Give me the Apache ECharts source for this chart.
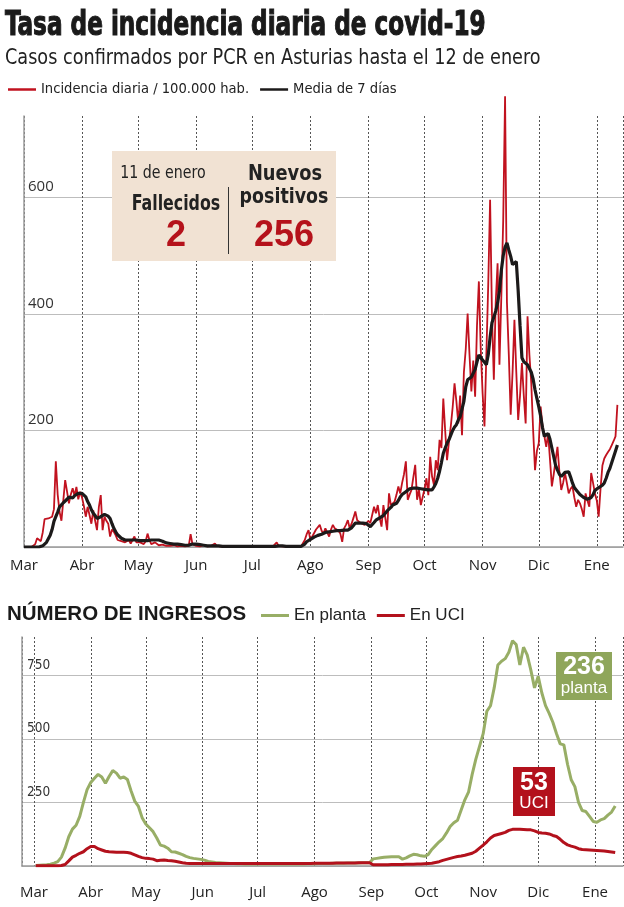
<!DOCTYPE html>
<html><head><meta charset="utf-8">
<script src="https://cdn.jsdelivr.net/npm/echarts@6/dist/echarts.min.js"></script>
<style>html,body{margin:0;padding:0;background:#fff}#c{width:624px;height:907px}</style>
</head><body><div id="c"></div>
<script>
// ---- tick labels ----
const monthLabels = ['Ene','Feb','Mar','Abr','May','Jun','Jul','Ago','Sep','Oct','Nov','Dic'];

// ---- top chart: daily incidence per 100.000 hab. (from 1 Mar 2020, one value per day) ----
const incidenceStart = [2020, 2, 1];
const incidenceDaily = [
  // Mar
  0,0,0,0,0,1,5,15,18,10,25,48,50,49,50,52,65,147,90,60,45,80,115,95,75,90,101,88,103,82,95,
  // Abr
  85,70,52,69,55,40,63,45,29,69,89,29,52,45,40,18,30,26,20,12,15,10,9,8,10,12,6,8,18,8,
  // May
  6,8,9,5,10,23,12,5,6,8,5,3,5,4,3,2,3,2,2,3,2,1,2,2,2,1,2,2,22,5,2,
  // Jun
  2,3,1,2,3,2,1,2,2,3,6,2,1,1,2,1,1,2,1,1,1,1,2,1,1,1,1,1,1,1,
  // Jul
  1,1,1,1,1,1,1,2,1,1,1,1,2,8,2,1,1,1,1,1,1,2,1,1,2,1,1,3,12,22,29,
  // Ago
  12,18,21,30,33,38,28,23,32,25,18,30,38,32,35,28,23,9,32,38,46,32,40,50,61,46,46,41,41,38,35,
  // Sep
  45,41,55,69,58,72,50,35,72,50,29,92,72,75,78,90,104,92,110,125,147,81,90,98,120,141,81,98,72,75,
  // Oct
  100,118,89,155,121,107,149,132,184,170,255,200,149,180,207,240,281,250,212,260,192,300,340,401,330,267,320,258,380,456,340,
  // Nov
  264,207,330,450,596,400,287,420,487,313,430,560,774,420,330,227,300,390,300,218,260,316,260,212,396,330,281,200,132,165,
  // Dic
  178,241,207,190,172,195,150,104,125,149,172,130,98,110,127,110,92,100,104,85,69,81,75,65,52,92,80,69,127,110,92,
  // Ene
  80,52,100,140,152,158,163,168,175,182,190,244
];
const incidenceAvg7 = [
  // Mar
  0,0,0,0,0,0,0,0,0,1,2,3,8,14,20,30,44,52,60,69,72,76,78,82,86,85,84,88,90,92,93,
  // Abr
  92,90,86,78,72,64,58,54,49,50,52,54,56,57,53,49,40,32,26,21,18,15,13,12,12,12,12,12,12,12,
  // May
  12,11,11,11,11,11,12,12,12,12,12,12,12,10,8,7,6,6,6,5,5,5,5,4,4,3,3,3,4,5,5,
  // Jun
  5,5,4,4,3,3,2,2,2,2,2,2,2,1,1,1,1,1,1,1,1,1,1,1,1,1,1,1,1,1,
  // Jul
  1,1,1,1,1,1,1,1,1,1,1,1,1,2,2,2,2,2,1,1,1,1,1,1,1,1,1,2,5,9,12,
  // Ago
  13,15,17,19,20,21,22,24,25,26,26,27,27,28,28,28,28,29,29,29,29,30,33,37,41,41,41,41,41,41,40,
  // Sep
  37,35,38,42,46,48,50,52,54,58,62,64,68,72,74,75,80,86,90,92,95,98,100,101,101,101,101,101,100,99,
  // Oct
  99,98,98,98,98,103,109,118,130,145,161,170,178,184,192,200,206,210,218,224,227,250,275,287,290,292,293,305,318,330,325,
  // Nov
  321,317,313,330,360,385,395,405,419,440,475,500,515,522,510,499,485,487,490,440,380,325,318,315,313,313,300,288,270,255,
  // Dic
  241,225,205,190,192,195,185,170,155,140,132,125,121,124,128,130,129,120,110,102,98,95,90,87,85,83,82,81,85,90,97,
  // Ene
  99,102,105,106,110,118,128,135,145,155,165,175
];

// ---- bottom chart: hospital admissions (from 2 Mar 2020, one value every 2 days) ----
const admissionsStart = [2020, 2, 2];
const admissionsStepDays = 2;
const plantaValues = [
  2,3,4,5,7,11,17,35,
  70,115,145,160,195,250,300,328,
  345,360,350,325,352,375,365,345,
  350,340,295,255,234,190,165,150,
  135,110,82,78,70,56,55,50,
  45,38,33,30,28,26,23,18,
  16,14,13,12,11,10,10,9,
  9,8,8,8,8,8,8,8,
  8,8,8,8,8,8,8,8,
  8,8,9,9,9,10,10,10,
  10,11,11,11,11,12,12,12,
  12,13,13,13,28,30,32,34,
  35,36,36,36,27,32,40,46,
  44,40,38,45,65,80,95,108,
  130,155,170,180,220,260,290,360,
  420,470,520,608,630,700,790,805,
  815,840,885,870,790,860,830,770,
  700,745,680,630,600,565,520,480,
  476,400,339,312,250,218,214,195,
  175,172,181,186,200,212,236
];
const uciValues = [
  1,1,1,1,1,1,1,2,
  6,20,35,42,50,56,68,77,
  77,68,63,58,56,55,54,54,
  54,53,50,44,38,33,30,29,
  27,21,23,24,22,21,19,16,
  13,11,10,10,10,10,10,10,
  10,10,10,10,10,10,10,10,
  10,10,10,10,10,10,10,10,
  10,10,10,10,10,10,10,10,
  10,10,10,10,11,11,11,11,
  11,11,12,12,12,12,12,12,
  13,13,13,13,5,5,5,5,
  5,6,6,6,6,7,7,7,
  8,8,9,10,11,14,17,22,
  26,30,34,37,39,42,46,50,
  58,70,82,95,110,120,124,128,
  132,140,144,144,144,143,142,142,
  138,132,130,129,126,120,116,105,
  92,83,78,74,68,65,64,63,
  62,61,60,59,57,55,53
];

// ---- annotation values ----
const annDate = '11 de enero';
const annFallecidos = '2';
const annPositivos = '256';
const lastPlanta = plantaValues[plantaValues.length - 1];
const lastUci = uciValues[uciValues.length - 1];

// ---- build ----
function dated(arr, start, step) {
  return arr.map((v, i) => [new Date(start[0], start[1], start[2] + i * step).getTime(), v]);
}
const COND = '"DejaVu Sans Condensed", "DejaVu Sans", sans-serif';
const OPEN = '"Open Sans", sans-serif';
const REG = '"Liberation Sans", Arial, sans-serif';
const DAY = 86400000;
const monthFmt = v => monthLabels[new Date(v).getMonth()];

// text helper: scaled text element (scaleX compresses horizontally)
function T(text, x, y, font, fill, sx, align, extra) {
  return Object.assign({
    type: 'text', x: x, y: y, scaleX: sx, z: 11,
    style: {text: text, x: 0, y: 0, font: font, fill: fill,
            textAlign: align, textVerticalAlign: 'middle', align: align, verticalAlign: 'middle'}
  }, extra || {});
}

const chart = echarts.init(document.getElementById('c'), null, {renderer: 'canvas'});

const xCommon = {
  type: 'time',
  splitNumber: 10,
  minInterval: 28 * DAY,
  maxInterval: 31 * DAY,
  axisLine: {show: true, lineStyle: {color: '#9a9a9a', width: 1.5}},
  axisTick: {show: false},
  axisLabel: {formatter: monthFmt, color: '#222', fontFamily: OPEN, fontSize: 15, margin: 11, hideOverlap: false},
  splitLine: {show: true, lineStyle: {color: '#555', type: [2, 2], width: 1}}
};

const titleText = T('Tasa de incidencia diaria de covid-19', 5, 26, 'bold 34px ' + COND, '#1a1a1a', 0.757, 'left');
titleText.style.stroke = '#1a1a1a';
titleText.style.lineWidth = 1.1;

const option = {
  animation: false,
  backgroundColor: '#fff',
  title: [
    {text: 'NÚMERO DE INGRESOS', left: 2, top: 599,
     textStyle: {fontFamily: REG, fontWeight: 'bold', fontSize: 20.5, color: '#1a1a1a'}}
  ],
  legend: [
    {left: 3, top: 77, icon: 'rect', itemWidth: 28, itemHeight: 2.5, itemGap: 11,
     data: ['Incidencia diaria / 100.000 hab.', 'Media de 7 días'],
     textStyle: {fontFamily: COND, fontSize: 14.6, color: '#222'}},
    {left: 256, top: 602, icon: 'rect', itemWidth: 28, itemHeight: 3, itemGap: 11,
     data: ['En planta', 'En UCI'],
     textStyle: {fontFamily: REG, fontSize: 17, color: '#222'}}
  ],
  grid: [
    {left: 24, right: 1, top: 116, bottom: 360},
    {left: 22, right: 1, top: 637, bottom: 41}
  ],
  xAxis: [
    Object.assign({}, xCommon, {gridIndex: 0, min: new Date(2020, 2, 1).getTime(), max: new Date(2021, 0, 15).getTime()}),
    Object.assign({}, xCommon, {gridIndex: 1, offset: 8, min: new Date(2020, 1, 23, 12).getTime(), max: new Date(2021, 0, 16, 6).getTime()})
  ],
  yAxis: [
    {type: 'value', gridIndex: 0, min: 0, max: 740, interval: 200,
     axisLine: {show: true, lineStyle: {color: '#9a9a9a', width: 1.5}}, axisTick: {show: false},
     axisLabel: {inside: true, showMinLabel: false, showMaxLabel: false, verticalAlign: 'bottom', margin: 4, padding: [0, 0, 3, 0],
                 fontFamily: OPEN, fontSize: 15, color: '#333'},
     splitLine: {show: true, showMaxLine: false, lineStyle: {color: '#bdbdbd', width: 1}}},
    {type: 'value', gridIndex: 1, min: 0, max: 900, interval: 250,
     axisLine: {show: true, lineStyle: {color: '#9a9a9a', width: 1.5}}, axisTick: {show: false},
     axisLabel: {inside: true, showMinLabel: false, showMaxLabel: false, verticalAlign: 'bottom', margin: 5, padding: [0, 0, 3, 0],
                 fontFamily: COND, fontSize: 13.5, color: '#333'},
     splitLine: {show: true, showMaxLine: false, lineStyle: {color: '#bdbdbd', width: 1}}}
  ],
  series: [
    {name: 'Incidencia diaria / 100.000 hab.', type: 'line', xAxisIndex: 0, yAxisIndex: 0, symbol: 'none', showSymbol: false, clip: false,
     data: dated(incidenceDaily, incidenceStart, 1), lineStyle: {color: '#c1121f', width: 1.8}, itemStyle: {color: '#c1121f'}, z: 2},
    {name: 'Media de 7 días', type: 'line', xAxisIndex: 0, yAxisIndex: 0, symbol: 'none', showSymbol: false,
     data: dated(incidenceAvg7, incidenceStart, 1), lineStyle: {color: '#1c1a1a', width: 3.2}, itemStyle: {color: '#1c1a1a'}, z: 3},
    {name: 'En planta', type: 'line', xAxisIndex: 1, yAxisIndex: 1, symbol: 'none', showSymbol: false,
     data: dated(plantaValues, admissionsStart, admissionsStepDays), lineStyle: {color: '#98ae66', width: 3}, itemStyle: {color: '#98ae66'}, z: 2},
    {name: 'En UCI', type: 'line', xAxisIndex: 1, yAxisIndex: 1, symbol: 'none', showSymbol: false,
     data: dated(uciValues, admissionsStart, admissionsStepDays), lineStyle: {color: '#b3111c', width: 3}, itemStyle: {color: '#b3111c'}, z: 3}
  ],
  graphic: [
    titleText,
    T('Casos confirmados por PCR en Asturias hasta el 12 de enero', 5, 59, '21px ' + COND, '#222', 0.935, 'left'),

    {type: 'rect', shape: {x: 112, y: 151, width: 224, height: 110}, style: {fill: '#f1e2d3'}, z: 10},
    T(annDate, 163, 173, '17.5px ' + COND, '#222', 0.9, 'center'),
    T('Fallecidos', 176, 204, 'bold 22px ' + COND, '#222', 0.8, 'center'),
    T(annFallecidos, 176, 236, 'bold 36px ' + REG, '#b5121b', 1, 'center'),
    {type: 'line', z: 11, shape: {x1: 228.5, y1: 187, x2: 228.5, y2: 254}, style: {stroke: '#333', lineWidth: 1}},
    T('Nuevos', 285, 174, 'bold 22px ' + COND, '#222', 0.9, 'center'),
    T('positivos', 284, 197, 'bold 22px ' + COND, '#222', 0.88, 'center'),
    T(annPositivos, 284, 236, 'bold 36px ' + REG, '#b5121b', 1, 'center'),

    {type: 'rect', shape: {x: 556, y: 652, width: 56, height: 48}, style: {fill: '#8fa65b'}, z: 10},
    T(String(lastPlanta), 584, 667, 'bold 25px ' + REG, '#fff', 1, 'center'),
    T('planta', 584, 688, '17px ' + REG, '#fff', 1, 'center'),
    {type: 'rect', shape: {x: 513, y: 767, width: 42, height: 49}, style: {fill: '#b3111c'}, z: 10},
    T(String(lastUci), 534, 783, 'bold 25px ' + REG, '#fff', 1, 'center'),
    T('UCI', 534, 803, '17px ' + REG, '#fff', 1, 'center')
  ]
};
chart.setOption(option);
</script>
</body></html>
